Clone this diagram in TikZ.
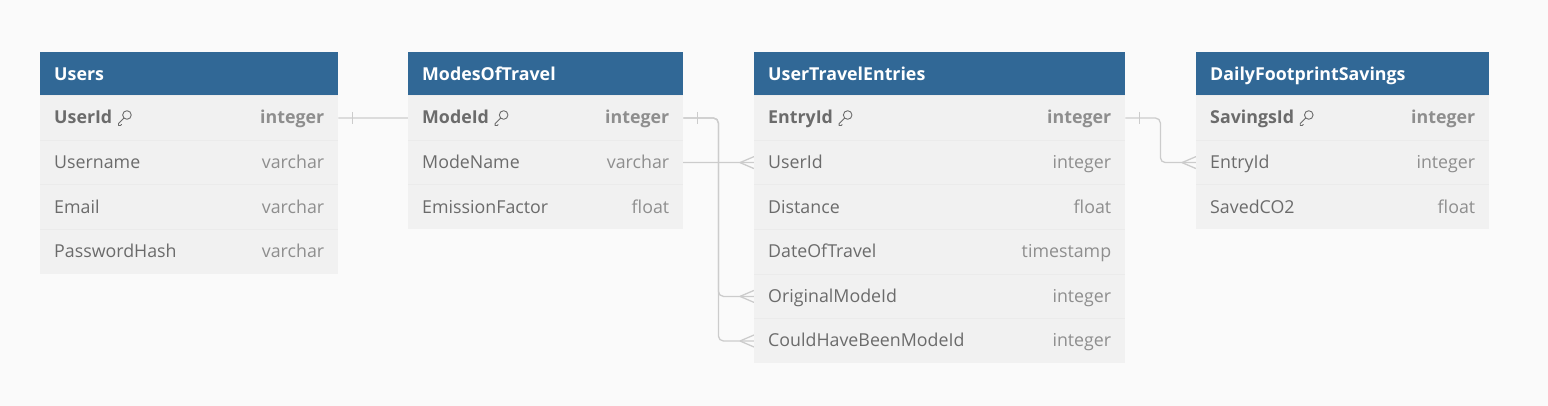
\documentclass[tikz,border=0pt]{standalone}
\usepackage{fontspec}
\setmainfont{Open Sans}
\usetikzlibrary{calc}
\pgfdeclarelayer{bgfill}
\pgfdeclarelayer{background}
\pgfsetlayers{bgfill,background,main}
\definecolor{bg}{HTML}{FAFAFA}
\definecolor{hdr}{HTML}{316896}
\definecolor{rowbg}{HTML}{F1F1F1}
\definecolor{sepcol}{HTML}{EBEBEB}
\definecolor{fcol}{HTML}{6B6B6B}
\definecolor{tcol}{HTML}{8E8E8E}
\definecolor{conncol}{HTML}{CCCCCC}
\newcommand{\fsz}{\fontsize{17.8}{21}\selectfont}
\tikzset{
  hdrbox/.style={fill=hdr, draw=none, minimum height=44pt, inner sep=0pt, anchor=north west},
  hdrtext/.style={text=white, font=\fsz\bfseries, anchor=west, inner sep=0pt, text height=12.7pt, text depth=0pt},
  rowbox/.style={fill=rowbg, draw=none, minimum height=44.6pt, inner sep=0pt, anchor=north west},
  fname/.style={text=fcol, font=\fsz, anchor=west, inner sep=0pt, text height=12.7pt, text depth=0pt},
  pkname/.style={fname, font=\fsz\bfseries},
  ftype/.style={text=tcol, font=\fsz, anchor=east, inner sep=0pt, text height=12.7pt, text depth=0pt},
  pktype/.style={ftype, font=\fsz\bfseries},
  sepline/.style={draw=sepcol, line width=0.6pt},
  conn/.style={draw=conncol, line width=1.3pt, rounded corners=5pt},
  crow/.style={draw=conncol, line width=1.3pt},
  keyicon/.style={draw=fcol, line width=0.9pt, line cap=round, line join=round},
}
% #1 id, #2 x, #3 width, #4 title
\newcommand{\ertable}[4]{%
  \node[hdrbox, minimum width=#3pt] (#1) at (#2,51.5) {};
  \node[hdrtext] (#1-title) at ($(#1.west)+(14,0)$) {#4};
}
% #1 table id, #2 idx, #3 x, #4 width, #5 name style, #6 type style, #7 name, #8 type
\newcommand{\errow}[8]{%
  \pgfmathsetmacro{\rtop}{95.5+(#2-1)*44.6}
  \node[rowbox, minimum width=#4pt] (#1-#2) at (#3,\rtop) {};
  \draw[sepline] (#1-#2.north west) -- (#1-#2.north east);
  \node[#5] (#1-#2-n) at ($(#1-#2.west)+(14,-0.5)$) {#7};
  \node[#6] (#1-#2-t) at ($(#1-#2.east)+(-14,-0.5)$) {#8};
}
% key icon after a name node
\newcommand{\erkey}[1]{%
  \draw[keyicon] ($(#1.east)+(14.5,-2.5)$) circle (4.3pt);
  \draw[keyicon] ($(#1.east)+(11.5,0.5)$) -- ($(#1.east)+(6,6)$) -- ($(#1.east)+(6,8)$) -- ($(#1.east)+(8,8)$) -- ($(#1.east)+(9,7)$);
}
% crow foot at a west anchor
\newcommand{\crowfoot}[1]{%
  \draw[crow] ($(#1.west)+(-14,0)$) -- ($(#1.west)+(0,-6)$);
  \draw[crow] ($(#1.west)+(-14,0)$) -- ($(#1.west)+(0,6)$);
}
% one-bar tick at an east anchor
\newcommand{\onetick}[1]{%
  \draw[crow] ($(#1.east)+(14,-6)$) -- ($(#1.east)+(14,6)$);
}
\begin{document}
\begin{tikzpicture}[x=1pt,y=-1pt]
\begin{pgfonlayer}{bgfill}
\fill[bg] (0,0) rectangle (1548,406);
\end{pgfonlayer}
\useasboundingbox (0,0) rectangle (1548,406);

% Users
\ertable{U}{40}{298}{Users}
\errow{U}{1}{40}{298}{pkname}{pktype}{UserId}{integer}
\errow{U}{2}{40}{298}{fname}{ftype}{Username}{varchar}
\errow{U}{3}{40}{298}{fname}{ftype}{Email}{varchar}
\errow{U}{4}{40}{298}{fname}{ftype}{PasswordHash}{varchar}
\erkey{U-1-n}

% ModesOfTravel
\ertable{M}{408}{275}{ModesOfTravel}
\errow{M}{1}{408}{275}{pkname}{pktype}{ModeId}{integer}
\errow{M}{2}{408}{275}{fname}{ftype}{ModeName}{varchar}
\errow{M}{3}{408}{275}{fname}{ftype}{EmissionFactor}{float}
\erkey{M-1-n}

% UserTravelEntries
\ertable{E}{754}{371}{UserTravelEntries}
\errow{E}{1}{754}{371}{pkname}{pktype}{EntryId}{integer}
\errow{E}{2}{754}{371}{fname}{ftype}{UserId}{integer}
\errow{E}{3}{754}{371}{fname}{ftype}{Distance}{float}
\errow{E}{4}{754}{371}{fname}{ftype}{DateOfTravel}{timestamp}
\errow{E}{5}{754}{371}{fname}{ftype}{OriginalModeId}{integer}
\errow{E}{6}{754}{371}{fname}{ftype}{CouldHaveBeenModeId}{integer}
\erkey{E-1-n}

% DailyFootprintSavings
\ertable{D}{1196}{293}{DailyFootprintSavings}
\errow{D}{1}{1196}{293}{pkname}{pktype}{SavingsId}{integer}
\errow{D}{2}{1196}{293}{fname}{ftype}{EntryId}{integer}
\errow{D}{3}{1196}{293}{fname}{ftype}{SavedCO2}{float}
\erkey{D-1-n}

\begin{pgfonlayer}{background}
% Users.UserId -> UserTravelEntries.UserId (passes behind ModesOfTravel)
\draw[conn] (U-1.east) -- ++(150,0) |- (E-2.west);
\onetick{U-1}
\crowfoot{E-2}
% ModesOfTravel.ModeId -> OriginalModeId, CouldHaveBeenModeId
\draw[conn] (M-1.east) -- ++(35,0) |- (E-5.west);
\draw[conn] (M-1.east) -- ++(35,0) |- (E-6.west);
\onetick{M-1}
\crowfoot{E-5}
\crowfoot{E-6}
% UserTravelEntries.EntryId -> DailyFootprintSavings.EntryId
\draw[conn] (E-1.east) -- ++(35,0) |- (D-2.west);
\onetick{E-1}
\crowfoot{D-2}
\end{pgfonlayer}
\end{tikzpicture}
\end{document}
